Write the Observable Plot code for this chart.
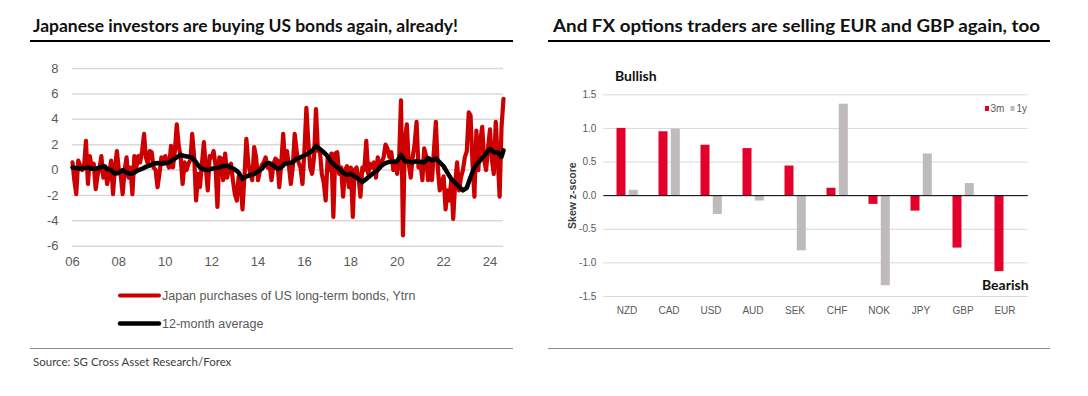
<!DOCTYPE html>
<html><head><meta charset="utf-8">
<script src="https://cdn.jsdelivr.net/npm/d3@7"></script>
<script src="https://cdn.jsdelivr.net/npm/@observablehq/plot@0.6"></script>
<style>
html,body{margin:0;padding:0;background:#fff;}
#wrap{position:relative;width:1088px;height:396px;overflow:hidden;background:#fff;}
#left,#right{position:absolute;top:0;}
#left{left:0;} #right{left:548px;}
#overlay{position:absolute;left:0;top:0;}
.title{font-family:Lato,"Open Sans",sans-serif;font-weight:700;font-size:16.5px;fill:#111;}
.leg{font-family:"Liberation Sans",Arial,sans-serif;font-size:12.5px;fill:#595959;}
.src{font-family:Lato,sans-serif;font-size:11.5px;fill:#404040;}
.bb{font-family:Lato,sans-serif;font-weight:700;font-size:14px;fill:#111;}
.small{font-family:"Liberation Sans",Arial,sans-serif;font-size:10px;fill:#595959;}
</style></head><body>
<div id="wrap">
<div id="left"></div>
<div id="right"></div>
<svg id="overlay" width="1088" height="396"></svg>
</div>
<script>
// ---------- Left chart data: Japan purchases of US long-term bonds (Ytrn), monthly from Jan 2006
const purchases = [
  0.6, -0.9, -1.9, 0.75, 0.4, 0.0, 0.2, 2.3, -1.1, 1.1, 0.2, 0.5,      // 2006
  -1.5, -0.4, 0.1, 1.1, -0.6, 0.3, -1.1, -0.3, 0.75, -1.9, 0.2, 1.5,   // 2007
  0.0, -0.5, -1.9, 0.0, 1.0, -0.6, 0.2, -1.9, 1.1, 0.2, 1.1, 0.6,      // 2008
  1.5, 2.85, 1.0, 0.5, 1.5, 1.4, 0.2, 0.0, -1.35, -0.3, 1.0, 0.5,      // 2009
  1.1, 0.5, 0.2, 1.9, 0.2, 1.5, 3.6, 1.9, 1.0, -1.1, 0.6, 0.0,         // 2010
  0.5, 0.8, 2.85, 1.0, -2.4, -0.3, -1.35, 0.5, 2.2, 0.2, -1.6, 1.1,    // 2011
  1.0, 1.5, 0.4, -2.9, 1.0, 0.9, -0.8, 1.3, -0.6, 0.2, 0.5, -0.8,      // 2012
  -1.9, -2.4, -0.5, -1.0, -3.1, -0.5, 2.45, 0.5, -0.3, -0.8, 1.8, 1.0, // 2013
  -0.8, 0.0, 0.4, 0.6, 1.0, 0.2, 0.4, -0.8, 0.5, 0.9, 0.75, -1.35,     // 2014
  0.5, 2.85, 0.5, 1.5, 0.4, -1.1, 0.2, 2.85, 1.5, 0.6, 0.2, -1.1,      // 2015
  1.5, 4.9, 2.3, 0.2, -0.3, 1.0, 4.8, 1.5, 1.5, -0.3, -1.0, -2.4,      // 2016
  1.0, 0.0, 1.3, -3.7, 1.3, 1.4, -0.3, 0.2, -2.1, 0.0, 0.3, -1.35,     // 2017
  0.2, -3.7, 0.0, 0.2, -0.5, -2.1, 0.2, 0.0, 2.3, -0.3, 0.5, 0.2,      // 2018
  0.6, -0.6, 1.0, 0.2, 0.6, 1.0, 2.0, 1.7, 1.0, 1.4, 0.0, 0.6,         // 2019
  -0.3, 1.0, 5.5, -5.15, 2.3, 3.6, 0.5, -0.6, 1.0, 2.0, 3.8, 0.2,      // 2020
  0.6, -0.8, 1.7, 1.1, -0.8, 0.6, -0.8, 1.5, 3.8, 0.2, -1.6, -1.1,     // 2021
  -0.5, -3.1, -1.6, -2.4, -0.8, -3.85, -1.1, 0.6, -1.6, -0.6, 0.0, 1.0,// 2022
  1.5, 4.55, 4.3, 0.5, -2.1, 3.1, 0.0, 2.3, 3.4, 0.8, 0.0, 1.7,        // 2023
  3.2, 0.8, -0.3, 3.8, 1.0, -2.1, 3.4, 5.6                             // 2024
];
// 12-month average, read every second month from Jan 2006, plus the last month (Aug 2024)
const averageValues = [
  0.2, 0.15, 0.1, 0.15, 0.2, 0.1, 0.1, 0.2, 0.3, 0.1, 0.0, -0.3,
  -0.2, 0.0, -0.2, -0.3, -0.2, 0.0, 0.1, 0.25, 0.35, 0.5, 0.55, 0.5,
  0.55, 0.6, 0.8, 1.0, 1.2, 1.1, 1.05, 1.0, 0.6, 0.2, 0.05, 0.0,
  0.1, 0.15, 0.2, 0.3, 0.35, 0.2, 0.05, -0.2, -0.7, -0.5, -0.4, -0.3,
  -0.1, 0.1, 0.5, 0.55, 0.35, 0.1, 0.2, 0.5, 0.55, 0.6, 0.9, 1.0,
  1.15, 1.3, 1.5, 1.9, 1.65, 1.4, 1.1, 0.6, 0.35, 0.1, -0.2, -0.4,
  -0.3, -0.5, -0.7, -0.95, -0.7, -0.45, -0.2, 0.0, 0.35, 0.55, 0.65, 0.65,
  0.7, 1.2, 0.7, 0.65, 0.6, 0.7, 0.65, 0.6, 0.95, 0.75, 0.9, 0.6,
  0.3, -0.2, -0.7, -1.0, -1.3, -1.6, -1.4, -0.55, 0.2, 0.6, 0.95, 1.3,
  1.65, 1.4, 1.4, 1.05,
  1.55
];
const averageMonthIndex = d3.range(0, 224, 2).concat([223]);
const leftYTicks = [-6, -4, -2, 0, 2, 4, 6, 8];
const leftXTickYears = [2006, 2008, 2010, 2012, 2014, 2016, 2018, 2020, 2022, 2024];

// ---------- Right chart data: FX options skew z-scores
const currencies = ["NZD", "CAD", "USD", "AUD", "SEK", "CHF", "NOK", "JPY", "GBP", "EUR"];
const skew3m = [1.0, 0.95, 0.75, 0.70, 0.44, 0.11, -0.13, -0.23, -0.78, -1.13];
const skew1y = [0.08, 0.99, -0.28, -0.08, -0.82, 1.36, -1.34, 0.62, 0.18, 0.0];
const rightYTicks = [-1.5, -1.0, -0.5, 0, 0.5, 1.0, 1.5];

// ---------- build tables
const start = new Date(Date.UTC(2006, 0, 1));
const redData = purchases.map((v, i) => ({date: d3.utcMonth.offset(start, i), v}));
const avgData = averageValues.map((v, i) => ({date: d3.utcMonth.offset(start, averageMonthIndex[i]), v}));

const left = Plot.plot({
  width: 540, height: 275,
  marginLeft: 72, marginRight: 37, marginTop: 68, marginBottom: 29.3,
  style: {fontFamily: '"Liberation Sans", Arial, sans-serif', fontSize: "13px", color: "#595959", background: "transparent"},
  x: {type: "utc", domain: [start, d3.utcMonth.offset(start, 223)], label: null},
  y: {domain: [-6, 8], label: null},
  marks: [
    Plot.gridY(leftYTicks, {stroke: "#d9d9d9", strokeOpacity: 1, strokeWidth: 1.5}),
    Plot.axisY(leftYTicks, {tickSize: 0, tickPadding: 14, tickFormat: d => (d < 0 ? "-" + Math.abs(d) : String(d)), label: null}),
    Plot.axisX(leftXTickYears.map(y => new Date(Date.UTC(y, 0, 1))), {tickSize: 0, tickPadding: 11, tickFormat: d3.utcFormat("%y"), label: null}),
    Plot.line(redData, {x: "date", y: "v", stroke: "#cc0000", strokeWidth: 4.2, strokeLinejoin: "round"}),
    Plot.line(avgData, {x: "date", y: "v", stroke: "#000", strokeWidth: 4.5, strokeLinejoin: "round"})
  ]
});
document.getElementById("left").appendChild(left);

const rows3m = currencies.map((c, i) => ({ccy: c, v: skew3m[i]}));
const rows1y = currencies.map((c, i) => ({ccy: c, v: skew1y[i]}));
const right = Plot.plot({
  width: 540, height: 330,
  marginLeft: 55.3, marginRight: 60.3, marginTop: 94.3, marginBottom: 34,
  style: {fontFamily: '"Liberation Sans", Arial, sans-serif', fontSize: "10px", color: "#595959", background: "transparent"},
  x: {domain: currencies, paddingInner: 0.79, paddingOuter: 0.395, label: null},
  y: {domain: [-1.5, 1.5], label: null},
  marks: [
    Plot.gridY(rightYTicks, {stroke: "#d9d9d9", strokeOpacity: 1, strokeWidth: 1}),
    Plot.axisY(rightYTicks, {tickSize: 0, tickPadding: 7.5, tickFormat: d => (d < 0 ? "-" + Math.abs(d).toFixed(1) : d.toFixed(1)), label: "Skew z-score", labelAnchor: "center", labelOffset: 35, labelArrow: "none"}),
    Plot.axisX({tickSize: 0, tickPadding: 10, label: null}),
    Plot.barY(rows3m, {x: "ccy", y: "v", fill: "#e4002b", dx: -5.5}),
    Plot.barY(rows1y, {x: "ccy", y: "v", fill: "#bfbbba", dx: 6.8}),
    Plot.ruleY([0], {stroke: "#000", strokeWidth: 1})
  ]
});
document.getElementById("right").appendChild(right);
const yl = right.querySelector('[aria-label="y-axis label"]');
if (yl) { yl.setAttribute("font-weight", "bold"); yl.setAttribute("fill", "#404040"); yl.setAttribute("font-size", "10.5px"); }

// ---------- overlay: titles, rules, legends, notes
const ov = d3.select("#overlay");
ov.append("text").attr("class", "title").attr("x", 33).attr("y", 31.5)
  .attr("textLength", 425).attr("lengthAdjust", "spacingAndGlyphs")
  .text("Japanese investors are buying US bonds again, already!");
ov.append("line").attr("x1", 30).attr("x2", 513).attr("y1", 41).attr("y2", 41).attr("stroke", "#000").attr("stroke-width", 2);
ov.append("text").attr("class", "title").attr("x", 553).attr("y", 31.5)
  .attr("textLength", 487).attr("lengthAdjust", "spacingAndGlyphs")
  .text("And FX options traders are selling EUR and GBP again, too");
ov.append("line").attr("x1", 548).attr("x2", 1050).attr("y1", 41).attr("y2", 41).attr("stroke", "#000").attr("stroke-width", 2);

ov.append("line").attr("x1", 120).attr("x2", 159).attr("y1", 295.5).attr("y2", 295.5).attr("stroke", "#cc0000").attr("stroke-width", 4).attr("stroke-linecap", "round");
ov.append("text").attr("class", "leg").attr("x", 162).attr("y", 300).text("Japan purchases of US long-term bonds, Ytrn");
ov.append("line").attr("x1", 120).attr("x2", 159).attr("y1", 323.5).attr("y2", 323.5).attr("stroke", "#000").attr("stroke-width", 4.5).attr("stroke-linecap", "round");
ov.append("text").attr("class", "leg").attr("x", 162).attr("y", 328).text("12-month average");

ov.append("line").attr("x1", 30).attr("x2", 513).attr("y1", 348.5).attr("y2", 348.5).attr("stroke", "#8c8c8c").attr("stroke-width", 1);
ov.append("line").attr("x1", 548).attr("x2", 1050).attr("y1", 348.5).attr("y2", 348.5).attr("stroke", "#8c8c8c").attr("stroke-width", 1);
ov.append("text").attr("class", "src").attr("x", 33).attr("y", 366).text("Source: SG Cross Asset Research/Forex");

ov.append("text").attr("class", "bb").attr("x", 615).attr("y", 81).text("Bullish");
ov.append("text").attr("class", "bb").attr("x", 982).attr("y", 290).text("Bearish");

ov.append("rect").attr("x", 985).attr("y", 106).attr("width", 4).attr("height", 5).attr("fill", "#e4002b");
ov.append("text").attr("class", "small").attr("x", 990.5).attr("y", 112).text("3m");
ov.append("rect").attr("x", 1010.5).attr("y", 106).attr("width", 4).attr("height", 5).attr("fill", "#bfbbba");
ov.append("text").attr("class", "small").attr("x", 1016.5).attr("y", 112).text("1y");
</script>
</body></html>
